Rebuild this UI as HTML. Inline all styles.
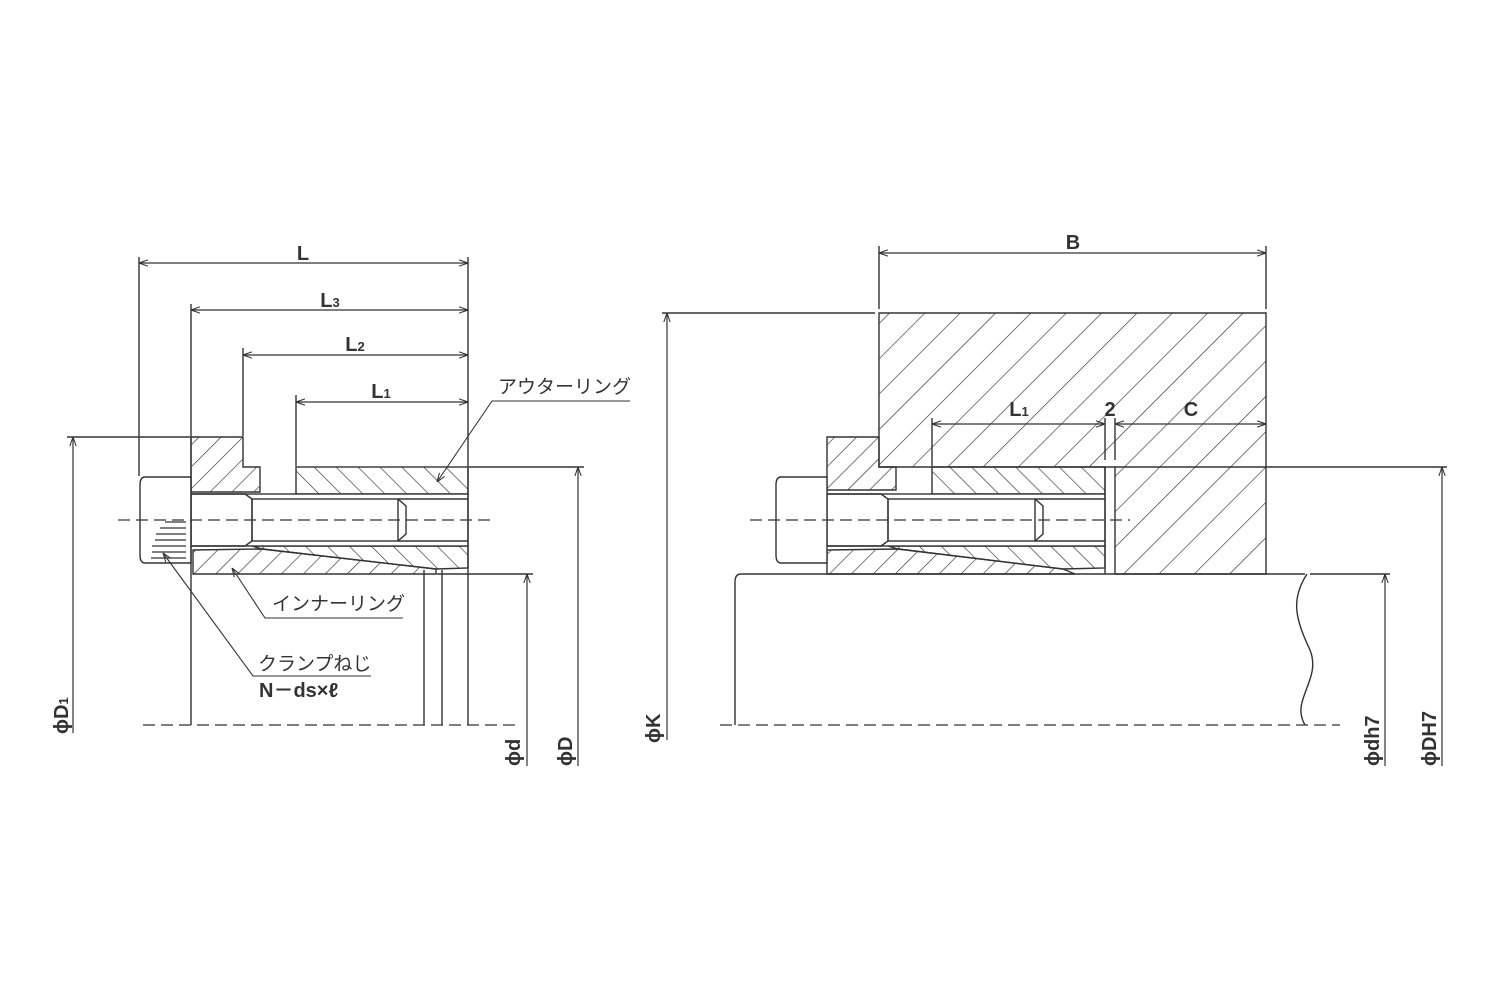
<!DOCTYPE html>
<html><head><meta charset="utf-8"><style>
html,body{margin:0;padding:0;background:#fff;}
svg{display:block;}
text{font-family:"Liberation Sans","Noto Sans CJK JP",sans-serif;fill:#333;}
.b{font-weight:bold;font-size:20px;}
.j{font-size:19px;}
</style></head><body>
<svg width="1500" height="1000" viewBox="0 0 1500 1000" xmlns="http://www.w3.org/2000/svg">
<defs>
<pattern id="hf" patternUnits="userSpaceOnUse" width="15.5" height="15.5" patternTransform="rotate(45)"><line x1="0" y1="0" x2="0" y2="15.5" stroke="#333" stroke-width="1.3"/></pattern>
<pattern id="hb" patternUnits="userSpaceOnUse" width="15.5" height="15.5" patternTransform="rotate(-45)"><line x1="0" y1="0" x2="0" y2="15.5" stroke="#333" stroke-width="1.3"/></pattern>
<pattern id="hh" patternUnits="userSpaceOnUse" width="25" height="25" patternTransform="rotate(45)"><line x1="0" y1="0" x2="0" y2="25" stroke="#333" stroke-width="1.3"/></pattern>
<marker id="a" viewBox="0 0 10 10" refX="10" refY="5" markerWidth="9" markerHeight="9" orient="auto-start-reverse" markerUnits="userSpaceOnUse"><path d="M0,1.5 L10,5 L0,8.5" fill="none" stroke="#333" stroke-width="1.2"/></marker>
</defs>
<g stroke="#333" stroke-width="1.4" fill="none">
<!-- ===== LEFT ===== -->
<!-- flange -->
<path d="M191,437 H243 V467 H260 V492 H191 Z" fill="url(#hf)"/>
<!-- outer ring upper -->
<rect x="296" y="467" width="172" height="27" fill="url(#hb)"/>
<!-- outer ring lower wedge -->
<path d="M252,546 H468 V568 L436,569 L262,549 Z" fill="url(#hb)"/>
<!-- inner ring -->
<path d="M193,550 L262,549 L436,569 V574 H193 Z" fill="url(#hf)"/>
<!-- bore -->
<rect x="191" y="494" width="277" height="52" fill="#fff"/>
<line x1="398" y1="499" x2="468" y2="499"/><line x1="398" y1="541" x2="468" y2="541"/>
<!-- bolt -->
<path d="M145,477 H191 V563 H145 Q140,563 140,555 V485 Q140,477 145,477 Z" fill="#fff"/>
<path d="M191,494 H245 L252,499 V541 L245,546 H191"/>
<rect x="252" y="499" width="146" height="42"/>
<path d="M398,499 L406,506 V534 L398,541"/>
<g stroke-width="1.2"><line x1="165" y1="522" x2="186" y2="522"/><line x1="160" y1="528" x2="186" y2="528"/><line x1="156" y1="534" x2="186" y2="534"/><line x1="155" y1="540" x2="186" y2="540"/><line x1="152" y1="546" x2="186" y2="546"/><line x1="152" y1="552" x2="186" y2="552"/><line x1="151" y1="558" x2="186" y2="558"/></g>
<!-- centerlines -->
<line x1="118" y1="520" x2="494" y2="520" stroke-dasharray="12,6" stroke-width="1.2"/>
<line x1="143" y1="725" x2="516" y2="725" stroke-dasharray="12,6" stroke-width="1.2"/>
<!-- extension lines -->
<line x1="139" y1="257" x2="139" y2="476"/>
<line x1="191" y1="304" x2="191" y2="725"/>
<line x1="243" y1="348" x2="243" y2="436"/>
<line x1="296" y1="395" x2="296" y2="466"/>
<line x1="468" y1="257" x2="468" y2="725"/>
<line x1="424" y1="570" x2="424" y2="725"/>
<line x1="442" y1="570" x2="442" y2="725"/>
<line x1="67" y1="437" x2="190" y2="437"/>
<line x1="469" y1="467" x2="584" y2="467"/>
<line x1="437" y1="574" x2="533" y2="574"/>
<!-- dims -->
<line x1="139" y1="263" x2="468" y2="263" marker-start="url(#a)" marker-end="url(#a)" stroke-width="1.2"/>
<line x1="191" y1="310" x2="468" y2="310" marker-start="url(#a)" marker-end="url(#a)" stroke-width="1.2"/>
<line x1="243" y1="355" x2="468" y2="355" marker-start="url(#a)" marker-end="url(#a)" stroke-width="1.2"/>
<line x1="296" y1="402" x2="468" y2="402" marker-start="url(#a)" marker-end="url(#a)" stroke-width="1.2"/>
<line x1="73" y1="733" x2="73" y2="437" marker-end="url(#a)" stroke-width="1.2"/>
<line x1="527" y1="766" x2="527" y2="574" marker-end="url(#a)" stroke-width="1.2"/>
<line x1="578" y1="766" x2="578" y2="467" marker-end="url(#a)" stroke-width="1.2"/>
<!-- leaders -->
<polyline points="630,401 492,401 437,482" marker-end="url(#a)" stroke-width="1.1"/>
<polyline points="403,618 265,618 232,568" marker-end="url(#a)" stroke-width="1.1"/>
<polyline points="371,676 253,676 163,553" marker-end="url(#a)" stroke-width="1.1"/>

<!-- ===== RIGHT ===== -->
<path d="M879,313 H1266 V574 H1115 V467 H879 Z" fill="url(#hh)"/>
<line x1="1115" y1="467" x2="1447" y2="467"/>
<path d="M827,437 H879 V467 H896 V490 H827 Z" fill="url(#hf)"/>
<rect x="932" y="467" width="173" height="27" fill="url(#hb)"/>
<path d="M888,546 H1105 V568 L1063,569 L898,549 Z" fill="url(#hb)"/>
<path d="M827,550 L898,549 L1063,569 L1075,574 H827 Z" fill="url(#hf)"/>
<rect x="827" y="494" width="278" height="52" fill="#fff"/>
<line x1="1035" y1="499" x2="1105" y2="499"/><line x1="1035" y1="541" x2="1105" y2="541"/>
<path d="M781,477 H827 V563 H781 Q776,563 776,555 V485 Q776,477 781,477 Z" fill="#fff"/>
<path d="M827,494 H881 L888,499 V541 L881,546 H827"/>
<rect x="888" y="499" width="147" height="42"/>
<path d="M1035,499 L1043,506 V534 L1035,541"/>
<line x1="1105" y1="467" x2="1105" y2="574"/>
<line x1="1105" y1="418" x2="1105" y2="460"/><line x1="1115" y1="418" x2="1115" y2="460"/>
<!-- shaft -->
<path d="M1305,574 H741 Q735,574 735,582 V725" />
<path d="M1310,574 H1390"/>
<path d="M1307,574 C1290,600 1296,620 1310,650 C1322,680 1290,700 1305,725"/>
<line x1="750" y1="520" x2="1130" y2="520" stroke-dasharray="12,6" stroke-width="1.2"/>
<line x1="720" y1="725" x2="1340" y2="725" stroke-dasharray="12,6" stroke-width="1.2"/>
<!-- ext + dims -->
<line x1="879" y1="246" x2="879" y2="309"/>
<line x1="1266" y1="246" x2="1266" y2="309"/>
<line x1="932" y1="418" x2="932" y2="466"/>
<line x1="662" y1="313" x2="875" y2="313"/>
<line x1="879" y1="253" x2="1266" y2="253" marker-start="url(#a)" marker-end="url(#a)" stroke-width="1.2"/>
<line x1="932" y1="424" x2="1105" y2="424" marker-start="url(#a)" marker-end="url(#a)" stroke-width="1.2"/>
<line x1="1115" y1="424" x2="1266" y2="424" marker-start="url(#a)" marker-end="url(#a)" stroke-width="1.2"/>
<line x1="667" y1="740" x2="667" y2="313" marker-end="url(#a)" stroke-width="1.2"/>
<line x1="1385" y1="766" x2="1385" y2="574" marker-end="url(#a)" stroke-width="1.2"/>
<line x1="1442" y1="766" x2="1442" y2="467" marker-end="url(#a)" stroke-width="1.2"/>
</g>
<!-- labels -->
<text class="b" x="303" y="260" text-anchor="middle">L</text>
<text class="b" x="330" y="307" text-anchor="middle">L<tspan font-size="13">3</tspan></text>
<text class="b" x="355" y="351" text-anchor="middle">L<tspan font-size="13">2</tspan></text>
<text class="b" x="381" y="398" text-anchor="middle">L<tspan font-size="13">1</tspan></text>
<text class="b" x="1073" y="249" text-anchor="middle">B</text>
<text class="b" x="1019" y="416" text-anchor="middle">L<tspan font-size="13">1</tspan></text>
<text class="b" x="1110" y="416" text-anchor="middle">2</text>
<text class="b" x="1191" y="416" text-anchor="middle">C</text>
<text class="j" x="498" y="393">アウターリング</text>
<text class="j" x="272" y="610">インナーリング</text>
<text class="j" x="258" y="670">クランプねじ</text>
<text class="b" x="259" y="697" font-size="19">N－ds×ℓ</text>
<text class="b" transform="translate(68,734) rotate(-90)">ϕD<tspan font-size="13">1</tspan></text>
<text class="b" transform="translate(520,766) rotate(-90)">ϕd</text>
<text class="b" transform="translate(572,766) rotate(-90)">ϕD</text>
<text class="b" transform="translate(660,743) rotate(-90)">ϕK</text>
<text class="b" transform="translate(1379,766) rotate(-90)">ϕdh7</text>
<text class="b" transform="translate(1436,766) rotate(-90)">ϕDH7</text>
</svg>
</body></html>
